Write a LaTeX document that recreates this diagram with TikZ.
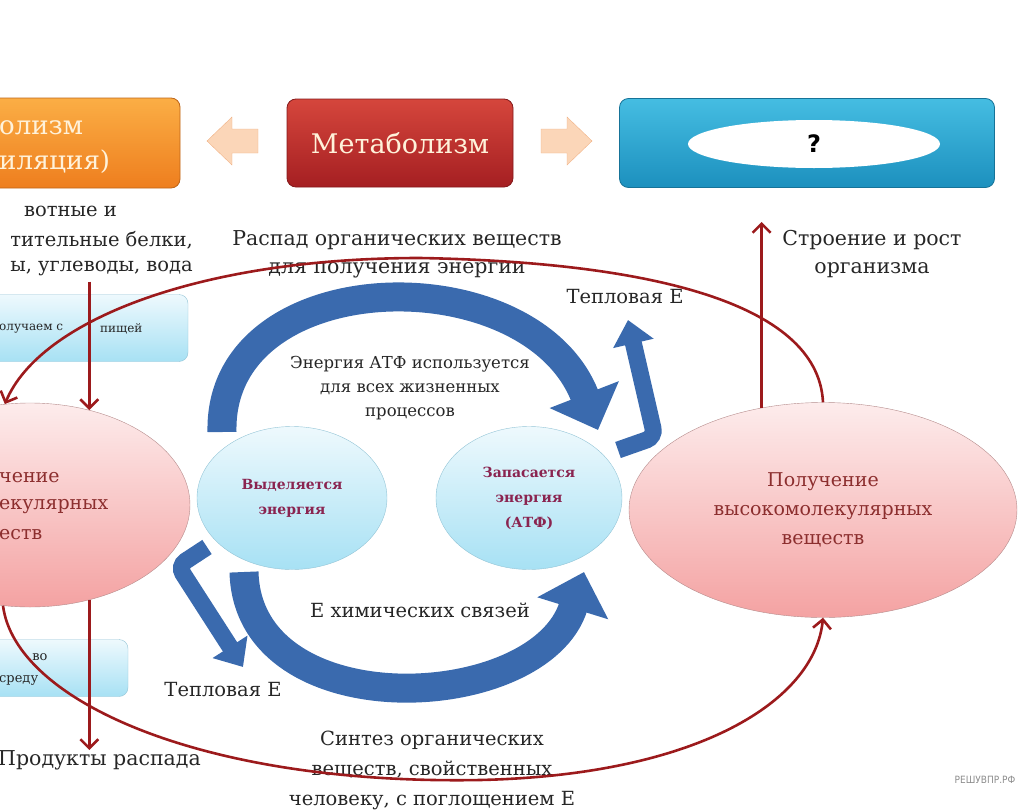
\documentclass[tikz,border=0pt]{standalone}
\usepackage{fontspec}
\setmainfont{DejaVu Serif}
\newfontfamily\sansfnt{DejaVu Sans}
\newfontfamily\markfnt{DejaVu Sans Condensed}
\usetikzlibrary{arrows.meta,shapes.geometric}

\definecolor{orangeT}{HTML}{FBAE45}
\definecolor{orangeB}{HTML}{EE7E1E}
\definecolor{redT}{HTML}{D5463C}
\definecolor{redB}{HTML}{A51F22}
\definecolor{cyanT}{HTML}{45BDE2}
\definecolor{cyanB}{HTML}{1C90BE}
\definecolor{paleT}{HTML}{EEF9FD}
\definecolor{paleB}{HTML}{A7E1F4}
\definecolor{paleD}{HTML}{93C4D6}
\definecolor{pinkT}{HTML}{FDECEC}
\definecolor{pinkB}{HTML}{F4A2A2}
\definecolor{pinkD}{HTML}{B58C8C}
\definecolor{flow}{HTML}{3A6AAE}
\definecolor{loopred}{HTML}{9C1A1C}
\definecolor{peach}{HTML}{FBD6B8}
\definecolor{peachD}{HTML}{F0B286}
\definecolor{cream}{HTML}{FFF2DA}
\definecolor{maroon}{HTML}{8C2E2E}
\definecolor{plum}{HTML}{8A2450}
\definecolor{txt}{HTML}{262626}

\tikzset{
  topbox/.style={rounded corners=9pt, draw=#1, line width=0.8pt},
  infobox/.style={rounded corners=9pt, draw=paleD, top color=paleT, bottom color=paleB},
  bigcell/.style={ellipse, draw=pinkD, top color=pinkT, bottom color=pinkB, text=maroon,
    align=center, font=\fontsize{19}{29}\selectfont},
  cell/.style={ellipse, draw=paleD, top color=paleT, bottom color=paleB, text=plum,
    minimum height=143pt, align=center, font=\bfseries\fontsize{14}{25}\selectfont},
  lbl/.style={text=txt, align=center, inner sep=0pt, font=\fontsize{19.5}{28}\selectfont},
  frag/.style={anchor=west, inner sep=0pt},
  redline/.style={draw=loopred, line width=2.6pt, -{Straight Barb[length=9pt,width=18pt]}},
  bigflow/.style={draw=flow, line width=29pt, -{Triangle[width=72pt,length=38pt]}},
  smallflow/.style={draw=flow, line width=17pt, rounded corners=9pt, -{Triangle[width=40pt,length=24pt]}}
}

\begin{document}
\begin{tikzpicture}[x=1pt,y=-1pt]
\useasboundingbox (0,0) rectangle (1031,811);
\clip (0,0) rectangle (1031,811);

% top row
\node[topbox=orangeB!80!black, top color=orangeT, bottom color=orangeB, minimum width=230pt, minimum height=90pt] (anab) at (65,143) {};
\node[frag, text=cream, font=\fontsize{26}{30}\selectfont] (anab1) at (-1,128) {олизм};
\node[frag, text=cream, font=\fontsize{26}{30}\selectfont] (anab2) at (-1,162) {иляция)};
\node[topbox=redB!80!black, top color=redT, bottom color=redB, minimum width=226pt, minimum height=88pt,
  text=cream, font=\fontsize{27}{30}\selectfont] (meta) at (400,143) {Метаболизм};
\node[topbox=cyanB!80!black, top color=cyanT, bottom color=cyanB, minimum width=375pt, minimum height=89pt] (catab) at (807,143) {};
\node[ellipse, fill=white, minimum width=252pt, minimum height=48pt, font=\sansfnt\bfseries\fontsize{24}{28}\selectfont] (quest) at (814,144) {?};

\filldraw[fill=peach, draw=peachD] (207,141) -- (232,117) -- (232,129) -- (258,129) -- (258,153) -- (232,153) -- (232,165) -- cycle;
\filldraw[fill=peach, draw=peachD] (592,141) -- (567,117) -- (567,129) -- (541,129) -- (541,153) -- (567,153) -- (567,165) -- cycle;

% left column
\node[frag, lbl, anchor=east] (food1) at (117,211) {вотные и};
\node[frag, lbl, anchor=east] (food2) at (193,240) {тительные белки,};
\node[frag, lbl, anchor=east] (food3) at (193,268) {ы, углеводы, вода};
\node[infobox, minimum width=230pt, minimum height=67pt] (foodbox) at (73,328) {};
\node[frag, text=txt, font=\fontsize{12}{14}\selectfont] (food4) at (-1,329) {олучаем с};
\node[frag, text=txt, font=\fontsize{12}{14}\selectfont] (food5) at (100,329) {пищей};
\node[bigcell, minimum width=320pt, minimum height=204pt] (lefte) at (30,505) {};
\node[frag, text=maroon, font=\fontsize{19}{29}\selectfont] (split1) at (-1,478) {чение};
\node[frag, text=maroon, font=\fontsize{19}{29}\selectfont] (split2) at (-1,507) {екулярных};
\node[frag, text=maroon, font=\fontsize{19}{29}\selectfont] (split3) at (-1,535) {еств};
\node[infobox, minimum width=170pt, minimum height=57pt] (outbox) at (43,668) {};
\node[text=txt, inner sep=0pt, font=\fontsize{13}{15}\selectfont] (out1) at (40,657) {во};
\node[frag, text=txt, font=\fontsize{13}{15}\selectfont] (out2) at (-1,680) {среду};
\node[frag, lbl, font=\fontsize{20.5}{28}\selectfont] (decay) at (-2,760) {Продукты распада};

% middle
\node[cell, minimum width=190pt] (release) at (292,498) {Выделяется\\энергия};
\node[cell, minimum width=186pt] (store) at (529,498) {Запасается\\энергия\\(АТФ)};
\node[lbl, font=\fontsize{20.5}{28}\selectfont] (breakdown) at (397,254) {Распад органических веществ\\для получения энергии};
\node[lbl, font=\fontsize{16.5}{24}\selectfont] (atpuse) at (410,388) {Энергия АТФ используется\\для всех жизненных\\процессов};
\node[lbl] (bonds) at (420,610) {Е химических связей};
\node[lbl] (heatup) at (625,297) {Тепловая Е};
\node[lbl] (heatdown) at (223,690) {Тепловая Е};
\node[lbl, font=\fontsize{19.5}{30}\selectfont] (synth) at (432,770) {Синтез органических\\веществ, свойственных\\человеку, с поглощением Е};

% right column
\node[bigcell, minimum width=388pt, minimum height=215pt] (righte) at (823,510) {Получение\\высокомолекулярных\\веществ};
\node[lbl, font=\fontsize{20.5}{28}\selectfont] (growth) at (872,254) {Строение и рост\\организма};
\node[text=black!45, font=\markfnt\fontsize{10}{12}\selectfont] (mark) at (985,780) {РЕШУВПР.РФ};

% blue flows
\coordinate (topA) at (222,432);
\coordinate (topB) at (598,430);
\coordinate (botA) at (244,572);
\coordinate (botB) at (584,572);
\coordinate (heatA) at (628,320);
\draw[bigflow] (topA) .. controls (218,262) and (530,255) .. (topB);
\draw[bigflow] (botA) .. controls (248,728) and (540,714) .. (botB);
\draw[smallflow] (618,450) -- (655,437) -- (heatA);
\draw[smallflow] (207,547) -- (178,566) -- (243,667);

% red connectors
\draw[redline] (lefte.58 |- food3.south) ++(0,6) -- (lefte.58);
\draw[redline] (lefte.-58) -- (lefte.-58 |- decay.north);
\draw[redline, shorten >=34pt] (righte.121) -- (righte.121 |- catab.south);
\draw[redline] (righte.north) .. controls (818,300) and (640,262) .. (420,258) .. controls (200,258) and (40,320) .. (lefte.104);
\draw[redline] (lefte.255) .. controls (15,700) and (200,785) .. (480,780) .. controls (700,775) and (815,700) .. (righte.south);
\end{tikzpicture}
\end{document}
